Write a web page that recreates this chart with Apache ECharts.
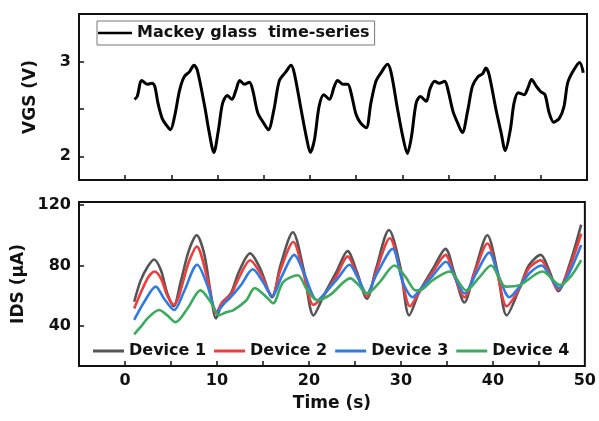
<!DOCTYPE html>
<html>
<head>
<meta charset="utf-8">
<script src="https://cdn.jsdelivr.net/npm/echarts@6/dist/echarts.min.js"></script>
<style>
  html, body { margin: 0; padding: 0; background: #fff; }
  #main { width: 599px; height: 421px; }
</style>
</head>
<body>
<div id="main"></div>
<script>
// Mackey glass input, [time (s), VGS (V)]
var vgs = [[1.0,2.60],[1.3,2.63],[1.8,2.80],[2.4,2.76],[2.9,2.77],[3.2,2.74],[3.55,2.56],[4.0,2.40],[4.45,2.33],[4.9,2.28],
  [5.35,2.42],[5.9,2.70],[6.4,2.84],[6.95,2.89],[7.45,2.96],[7.8,2.91],[8.6,2.53],[9.1,2.25],[9.6,2.04],[10.1,2.28],
  [10.55,2.56],[11.05,2.64],[11.55,2.60],[12.0,2.70],[12.4,2.80],[12.9,2.76],[13.45,2.78],[13.8,2.70],[14.35,2.46],[15.0,2.35],
  [15.5,2.28],[16.1,2.49],[16.7,2.80],[17.4,2.89],[17.95,2.96],[18.3,2.88],[19.05,2.49],[19.6,2.21],[20.05,2.04],[20.5,2.18],
  [21.0,2.53],[21.5,2.65],[22.1,2.60],[22.65,2.74],[23.0,2.80],[23.55,2.76],[24.1,2.76],[24.45,2.67],[25.0,2.44],[25.5,2.35],
  [26.1,2.30],[26.6,2.56],[27.15,2.79],[27.7,2.88],[28.4,2.97],[28.8,2.88],[29.5,2.49],[30.05,2.21],[30.55,2.03],[31.0,2.21],
  [31.5,2.56],[31.95,2.63],[32.6,2.58],[33.0,2.71],[33.5,2.79],[34.0,2.77],[34.6,2.79],[34.9,2.72],[35.5,2.47],[36.0,2.35],
  [36.5,2.25],[37.1,2.49],[37.6,2.74],[38.2,2.84],[38.7,2.87],[39.05,2.93],[39.4,2.86],[40.15,2.49],[40.7,2.25],[41.15,2.06],
  [41.7,2.28],[42.1,2.56],[42.55,2.67],[43.2,2.65],[43.6,2.72],[44.0,2.81],[44.5,2.74],[45.0,2.68],[45.45,2.65],[45.9,2.46],
  [46.4,2.36],[47.0,2.40],[47.5,2.52],[47.9,2.77],[48.45,2.89],[49.2,2.99],[49.6,2.88]];

// IDS responses, [time (s), IDS (uA)]
var dev1 = [[1.0,56],[1.7,70],[2.45,79],[3.15,84],[3.9,77],[4.6,61.5],[5.3,53],[6.05,69],[6.95,90],[7.8,100],[8.6,88],[9.3,62.5],
  [9.9,45],[10.55,55],[11.5,61.5],[12.4,76],[13.6,88],[14.7,78],[16.0,59],[16.9,80],[18.25,102],[19.4,78],[20.5,47],[21.6,60],
  [23.0,76],[24.2,89.5],[25.2,76],[26.3,58],[27.3,78],[28.7,103.5],[29.9,80],[30.9,47],[32.0,62.5],[33.5,78],[34.85,91],[35.8,75],
  [36.9,55.5],[38.0,76],[39.4,100],[40.5,76],[41.5,47],[42.9,65],[43.9,80],[45.2,87],[46.1,77],[47.1,63],[48.3,80],[49.6,107]];
var dev2 = [[1.0,51.5],[2.45,71.5],[3.2,76],[3.9,71.5],[4.6,60],[5.3,54],[6.95,82.5],[7.8,92.5],[8.95,71.5],[9.9,48.5],[10.6,56],
  [11.5,60.5],[12.4,72],[13.6,83.5],[14.7,75],[16.0,60],[16.9,77],[18.3,95.5],[19.4,75],[20.5,54],[21.6,60],[23.0,73],[24.2,86],
  [25.2,74],[26.3,59.5],[27.3,76],[28.8,98],[29.9,77],[31.0,53],[32.0,62.5],[33.5,76],[34.85,87],[35.8,73],[36.9,59],[38.0,75],
  [39.4,94.5],[40.5,74],[41.5,53],[42.9,65],[43.9,78],[45.2,83.5],[46.1,75],[47.1,64],[48.3,78],[49.6,101]];
var dev3 = [[1.0,44],[2.1,56],[3.35,66],[4.25,58],[5.35,50.5],[6.4,62.5],[7.85,80.5],[8.95,67],[10.0,49.5],[10.8,55],[11.5,59],
  [12.6,67],[13.9,77.5],[14.9,70],[16.0,60],[17.1,73.5],[18.4,87],[19.4,76],[20.9,57],[22.0,63.5],[23.2,72],[24.4,80.5],[25.3,72],
  [26.3,61.5],[27.3,73.5],[29.1,91],[30.2,69],[31.3,59],[32.0,63.5],[33.5,73.5],[34.9,82.5],[35.9,72],[36.9,61.5],[38.2,75],
  [39.6,88.5],[40.7,72],[41.8,59],[42.9,66],[44.0,75],[45.3,80],[46.2,73],[47.2,65],[48.3,75],[49.6,93.5]];
var dev4 = [[1.0,34.5],[1.8,40],[2.45,45],[3.7,50.5],[4.6,47],[5.5,42.5],[6.8,51.5],[8.2,63.5],[9.3,56],[10.2,47],[11.0,49],
  [11.8,50.5],[13.2,57],[14.1,65],[15.4,59],[16.1,55],[17.2,69],[18.8,73.5],[19.7,65],[20.9,57],[22.3,60.5],[24.5,71.5],[25.4,67],
  [26.3,61.5],[27.7,69],[29.3,80],[30.5,72.5],[31.6,63.5],[32.0,63.5],[33.5,70.5],[35.3,76],[37.1,63.5],[38.5,72],[39.8,80],
  [41.4,66],[42.9,67],[45.4,76],[47.3,67],[48.5,73],[49.6,83.5]];

var devNames = ['Device 1', 'Device 2', 'Device 3', 'Device 4'];
var devColors = ['#555555', '#ee3d3d', '#2f7be6', '#3bab5e'];

// tick values
var timeTicks = [0, 5, 10, 15, 20, 25, 30, 35, 40, 45];
var timeLabels = [0, 10, 20, 30, 40, 50];
var vgsTicks = [2, 2.5, 3];
var vgsLabels = [2, 3];
var idsTicks = [40, 80, 120];

var FONT = 'DejaVu Sans';
var labelStyle = { fontFamily: FONT, fontWeight: 'bold', fontSize: 16, color: '#111' };
var nameStyle = { fontFamily: FONT, fontWeight: 'bold', fontSize: 17, color: '#111' };
var tickStyle = { show: true, inside: true, length: 5, lineStyle: { color: '#111', width: 1.5 } };
var noLine = { show: false, onZero: false };

var myChart = echarts.init(document.getElementById('main'));

var series = [{
  name: 'Mackey glass  time-series',
  type: 'line',
  xAxisIndex: 0, yAxisIndex: 0,
  data: vgs,
  smooth: 0.3,
  symbol: 'none',
  lineStyle: { color: '#000', width: 3 },
  itemStyle: { color: '#000' }
}];
[dev1, dev2, dev3, dev4].forEach(function (d, i) {
  series.push({
    name: devNames[i],
    type: 'line',
    xAxisIndex: 1, yAxisIndex: 1,
    data: d,
    smooth: 0.3,
    symbol: 'none',
    lineStyle: { color: devColors[i], width: 2.6 },
    itemStyle: { color: devColors[i] }
  });
});

var option = {
  animation: false,
  backgroundColor: '#fff',
  grid: [
    { left: 79, top: 14, width: 508, height: 166, show: true, borderColor: '#111', borderWidth: 2, backgroundColor: 'transparent' },
    { left: 79, top: 202, width: 508, height: 164, show: true, borderColor: '#111', borderWidth: 2, backgroundColor: 'transparent' }
  ],
  legend: [
    {
      data: ['Mackey glass  time-series'],
      left: 97, top: 21,
      icon: 'rect',
      itemWidth: 34, itemHeight: 2.5,
      padding: [4, 5, 4, 1],
      borderColor: '#777', borderWidth: 1,
      textStyle: { fontFamily: FONT, fontWeight: 'bold', fontSize: 16, color: '#111' }
    },
    {
      data: devNames,
      left: 93, top: 343,
      icon: 'rect',
      itemWidth: 31, itemHeight: 3, itemGap: 8,
      padding: 0,
      textStyle: { fontFamily: FONT, fontWeight: 'bold', fontSize: 16, color: '#111' }
    }
  ],
  xAxis: [
    {
      gridIndex: 0, type: 'value', min: -5, max: 50, interval: 5,
      axisLine: noLine,
      axisTick: Object.assign({ customValues: timeTicks }, tickStyle),
      axisLabel: { show: false },
      splitLine: { show: false }
    },
    {
      gridIndex: 1, type: 'value', min: -5, max: 50, interval: 5,
      name: 'Time (s)', nameLocation: 'middle', nameGap: 29, nameTextStyle: nameStyle,
      axisLine: noLine,
      axisTick: Object.assign({ customValues: timeTicks }, tickStyle),
      axisLabel: Object.assign({ customValues: timeLabels, margin: 7 }, labelStyle),
      splitLine: { show: false }
    }
  ],
  yAxis: [
    {
      gridIndex: 0, type: 'value', min: 1.75, max: 3.5,
      name: 'VGS (V)', nameLocation: 'middle', nameGap: 40, nameTextStyle: nameStyle,
      axisLine: noLine,
      axisTick: Object.assign({ customValues: vgsTicks }, tickStyle),
      axisLabel: Object.assign({ customValues: vgsLabels, margin: 8 }, labelStyle),
      splitLine: { show: false }
    },
    {
      gridIndex: 1, type: 'value', min: 13.5, max: 122,
      name: 'IDS (μA)', nameLocation: 'middle', nameGap: 44, nameTextStyle: nameStyle,
      axisLine: noLine,
      axisTick: Object.assign({ customValues: idsTicks }, tickStyle),
      axisLabel: Object.assign({ customValues: idsTicks, margin: 8 }, labelStyle),
      splitLine: { show: false }
    }
  ],
  series: series
};
myChart.setOption(option);
</script>
</body>
</html>
